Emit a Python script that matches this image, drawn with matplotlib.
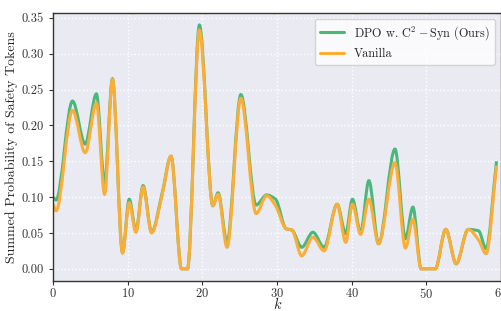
import numpy as np
import matplotlib
matplotlib.use("Agg")
import matplotlib.pyplot as plt
import seaborn as sns
from matplotlib.path import Path
from matplotlib.patches import PathPatch
from matplotlib.lines import Line2D

k = [0.0, 0.4, 2.6, 4.3, 5.8, 6.9, 7.95, 9.3, 10.2, 11.1, 12.05, 13.2, 14.6,
     15.8, 17.2, 18.0, 19.6, 21.4, 22.1, 23.3, 25.15, 27.2, 28.6, 29.8, 31.2,
     32.0, 33.3, 34.8, 36.3, 38.05, 39.2, 40.1, 41.2, 42.3, 43.6, 45.8, 47.2,
     48.2, 49.3, 51.2, 52.6, 54.0, 55.6, 57.0, 58.0, 59.4]
ours = [0.100, 0.096, 0.234, 0.174, 0.244, 0.120, 0.265, 0.023, 0.097, 0.053,
        0.116, 0.051, 0.105, 0.157, 0.000, 0.000, 0.340, 0.088, 0.106, 0.037,
        0.243, 0.089, 0.103, 0.097, 0.056, 0.054, 0.030, 0.051, 0.030, 0.090,
        0.049, 0.097, 0.051, 0.123, 0.035, 0.167, 0.042, 0.086, 0.000, 0.000,
        0.055, 0.007, 0.055, 0.053, 0.028, 0.150]
vanilla = [0.090, 0.081, 0.221, 0.162, 0.231, 0.104, 0.264, 0.022, 0.092, 0.051,
           0.114, 0.050, 0.103, 0.157, 0.000, 0.000, 0.333, 0.088, 0.104, 0.030,
           0.238, 0.077, 0.102, 0.088, 0.056, 0.054, 0.018, 0.044, 0.025, 0.090,
           0.037, 0.090, 0.048, 0.097, 0.035, 0.148, 0.029, 0.069, 0.000, 0.000,
           0.055, 0.007, 0.055, 0.040, 0.021, 0.144]

labels = [r"DPO w. C$^2-$Syn (Ours)", "Vanilla"]
colors = ["#4cb77c", "#fbae35"]


def smooth_path(x, y):
    # monotone cubic (Fritsch-Carlson) drawn as bezier segments
    x = np.asarray(x, float)
    y = np.asarray(y, float)
    h = np.diff(x)
    d = np.diff(y) / h
    m = np.zeros_like(y)
    m[0], m[-1] = d[0], d[-1]
    for i in range(1, len(x) - 1):
        if d[i - 1] * d[i] > 0:
            w1 = 2 * h[i] + h[i - 1]
            w2 = h[i] + 2 * h[i - 1]
            m[i] = (w1 + w2) / (w1 / d[i - 1] + w2 / d[i])
    verts = [(x[0], y[0])]
    codes = [Path.MOVETO]
    for i in range(len(x) - 1):
        verts += [(x[i] + h[i] / 3, y[i] + m[i] * h[i] / 3),
                  (x[i + 1] - h[i] / 3, y[i + 1] - m[i + 1] * h[i] / 3),
                  (x[i + 1], y[i + 1])]
        codes += [Path.CURVE4] * 3
    return Path(verts, codes)


sns.set_style("darkgrid", {"grid.linestyle": ":", "axes.edgecolor": "#333333"})
plt.rcParams["font.family"] = "serif"
plt.rcParams["font.serif"] = ["cmr10"]
plt.rcParams["mathtext.fontset"] = "cm"
plt.rcParams["axes.formatter.use_mathtext"] = True
plt.rcParams["axes.unicode_minus"] = False

fig = plt.figure(figsize=(5.01, 3.11), dpi=100)
ax = fig.add_axes([0.106, 0.0965, 0.894, 0.862])

for series, c in zip([ours, vanilla], colors):
    ax.add_patch(PathPatch(smooth_path(k, series), fill=False, edgecolor=c, lw=2.2))

ax.set_xlim(0, 60)
ax.set_ylim(-0.017, 0.357)
ax.set_xticks(range(0, 61, 10))
ax.set_yticks(np.arange(0, 0.351, 0.05))
ax.yaxis.set_major_formatter(matplotlib.ticker.FormatStrFormatter("%.2f"))
ax.tick_params(labelsize=9, length=3, width=0.8, left=True, bottom=True, colors="#333333")
ax.tick_params(axis="x", pad=1.5)
ax.grid(True, color="white", linestyle=":", linewidth=1)
for s in ax.spines.values():
    s.set_visible(True)
    s.set_color("#333333")
    s.set_linewidth(1.0)

ax.set_xlabel("k", fontsize=10.5, fontfamily="cmmi10")
ax.xaxis.set_label_coords(0.5, -0.065)
ax.set_ylabel("Summed Probability of Safety Tokens", fontsize=10, labelpad=3)

handles = [Line2D([], [], color=c, lw=2.2) for c in colors]
ax.legend(handles, labels, loc="upper right", fontsize=8.8, frameon=True,
          facecolor="white", framealpha=0.8, handlelength=2.0)

fig.savefig("out.png", dpi=100)
